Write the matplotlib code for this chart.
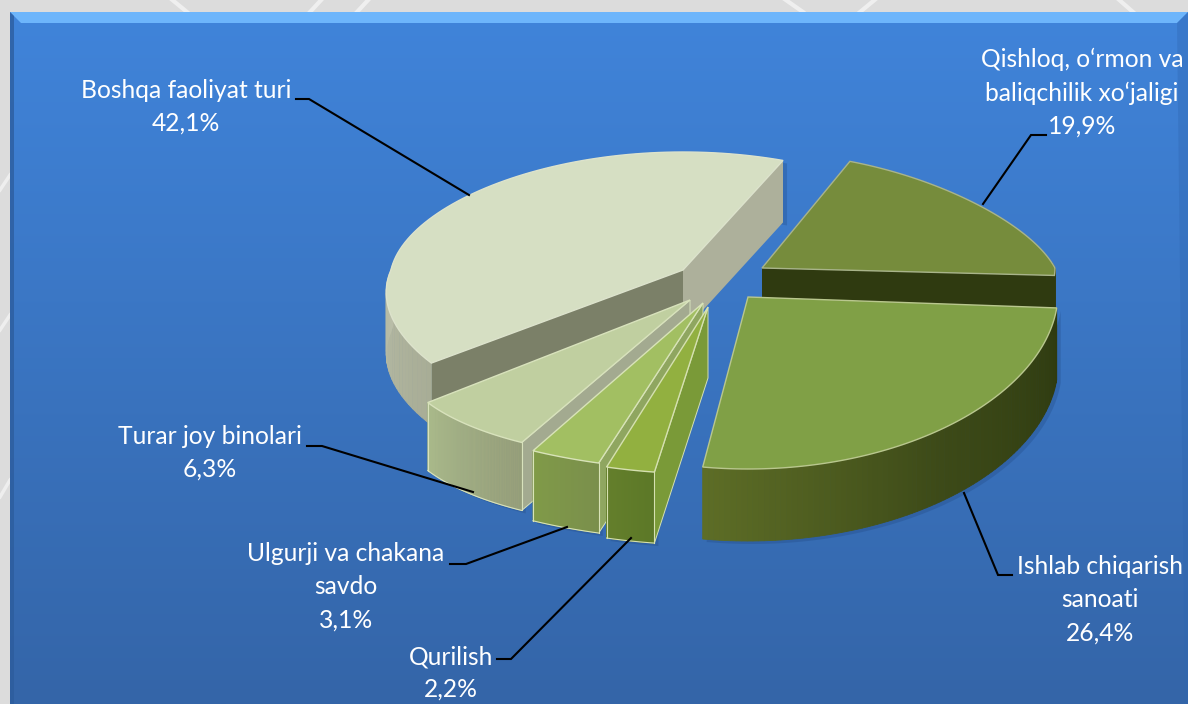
"""Exploded 3D pie of activity shares, on a blue bevelled panel."""
import numpy as np
import matplotlib
matplotlib.use("Agg")
import matplotlib.pyplot as plt
from matplotlib.colors import to_rgb
from matplotlib.patches import Polygon

W, H = 1188, 704

# data, clockwise from the back of the pie
categories = ["Qishloq, o\u2018rmon va\nbaliqchilik xo\u2018jaligi", "Ishlab chiqarish\nsanoati",
              "Qurilish", "Ulgurji va chakana\nsavdo", "Turar joy binolari", "Boshqa faoliyat turi"]
shares = [19.9, 26.4, 2.2, 3.1, 6.3, 42.1]
start_deg = -68.0

# per slice look: apex, half-axes (side, front, back), height, colours
apex = [(762, 268), (748, 297), (708, 307), (703, 303), (690, 300), (683, 270)]
rx = [(293, 293, 230), (310, 300, 310), (355, 355, 355), (365, 365, 365), (286, 371, 286), (292, 346, 265)]
ry = [(115, 150, 115), (172, 172, 172), (167, 167, 167), (167, 167, 167), (161, 161, 161), (120, 161, 118)]
depth = [60, 72, 71, 70, 68, 62]
top_col = ["#768c3c", "#80a046", "#92b040", "#a2bf62", "#c0cfa0", "#d6dfc3"]
wall_cols = [("#2f3a10", "#2f3a10"), ("#2f3b10", "#3d4a18", "#5d6d26"), ("#5c7827", "#647f2c"),
             ("#7a8f4c", "#809a48"), ("#979f7a", "#a9b98a"), ("#a8ad96", "#c9cdb8", "#c5c9b4")]
# visible cut faces per slice: (0 = start of slice, -1 = end of slice, colour)
cut_faces = [[(-1, "#2f3a10")], [], [(0, "#7a9a38")], [(0, "#8fa660")], [(0, "#a3aa90")],
             [(0, "#7b8068"), (-1, "#adb09b")]]
edge_col = ["#a9b48a", "#b9c78e", "#d5e0b0", "#d8e3b8", "#d8e2bc", "#dde3cc"]
has_shadow = [False, True, True, True, True, True]

label_xy = [(1082, 61), (1100, 568), (451, 658), (346, 555), (210, 438), (186, 92)]
leaders = [[(1046, 135), (1031, 135), (983, 204)], [(1012, 575), (998, 575), (964, 493)],
           [(497, 659), (511, 659), (631, 538)], [(450, 564), (466, 564), (567, 527)],
           [(307, 446), (322, 446), (473, 492)], [(296, 99), (309, 99), (469, 195)]]


def rim(i, t):
    """Rim points of slice i at angles t (radians), in picture pixels."""
    s = np.sin(t)
    ax_, ay_ = apex[i]
    a0, af, ab = rx[i]
    b0, bf, bb = ry[i]
    a = np.where(s > 0, a0 + (af - a0) * s, a0 + (ab - a0) * -s)
    b = np.where(s > 0, b0 + (bf - b0) * s, b0 + (bb - b0) * -s)
    return ax_ + a * np.cos(t), ay_ + b * s


def mix(stops, n):
    rgb = np.array([to_rgb(c) for c in stops])
    pos = np.linspace(0, 1, len(stops))
    return [tuple(np.interp(u, pos, rgb[:, k]) for k in range(3)) for u in np.linspace(0, 1, n)]


fig = plt.figure(figsize=(W / 100, H / 100), dpi=100, facecolor="#dcdcdc")
ax = fig.add_axes([0, 0, 1, 1])
ax.axis("off")

# pale streaks in the grey frame
for xa, xb in [(170, 187), (323, 310), (370, 357), (783, 803), (877, 860), (1117, 1133)]:
    ax.plot([xa, xb], [-2, 12], color="#efefef", lw=3, zorder=0)
for ya, yb in [(497, 480), (330, 315), (190, 175)]:
    ax.plot([0, 10], [ya, yb], color="#eeeeee", lw=2.5, zorder=0)

# panel with bevel
x0, y0 = 10, 12
grad = np.linspace(0, 1, 256)[:, None, None]
top, bot = np.array(to_rgb("#4084da")), np.array(to_rgb("#3465a8"))
ax.imshow(top + (bot - top) * grad, extent=[x0, W, H, y0], aspect="auto", zorder=1)
ax.add_patch(Polygon([(x0, y0), (W, y0), (W - 11, y0 + 11), (x0 + 11, y0 + 11)], fc="#6db5fb", ec="none", zorder=2))
ax.add_patch(Polygon([(x0, y0), (x0 + 4, y0 + 4), (x0 + 4, H), (x0, H)], fc="#2c5c9c", ec="none", alpha=0.75, zorder=2))
ax.add_patch(Polygon([(W, y0), (W - 11, y0 + 11), (W - 3, H), (W, H)], fc="#2f66b0", ec="none", alpha=0.35, zorder=2))
ax.set_xlim(0, W)
ax.set_ylim(H, 0)

# slices, back to front
bounds = start_deg + 3.6 * np.cumsum([0] + shares)
order = [0, 5, 4, 3, 2, 1]
z = 10
for i in order:
    t = np.radians(np.linspace(bounds[i], bounds[i + 1], 90))
    x, y = rim(i, t)
    h = depth[i]
    px, py = apex[i]

    if has_shadow[i]:
        ax.fill(np.r_[x, x[::-1]] + 4, np.r_[y, y[::-1] + h] + 3, color="#1c3f75", alpha=0.25, lw=0, zorder=z)
        z += 1

    for end, col in cut_faces[i]:
        ax.add_patch(Polygon([(px, py), (x[end], y[end]), (x[end], y[end] + h), (px, py + h)],
                             fc=col, ec=edge_col[i] if i in (2, 3, 4) else "none", lw=0.7, zorder=z))
        z += 1

    # outer wall in thin strips so the shading runs along it
    cols = mix(wall_cols[i], len(t) - 1)
    for k in range(len(t) - 1):
        if np.sin(t[k]) > -0.05:
            ax.fill([x[k], x[k + 1], x[k + 1], x[k]], [y[k], y[k + 1], y[k + 1] + h, y[k] + h],
                    fc=cols[k], ec=cols[k], lw=0.6, zorder=z)
    z += 1
    vis = np.sin(t) > -0.05
    if vis.any() and i in (2, 3, 4):
        ax.plot(x[vis], y[vis] + h, color=edge_col[i], lw=0.8, zorder=z)
        ax.plot([x[vis][0]] * 2, [y[vis][0], y[vis][0] + h], color=edge_col[i], lw=0.8, zorder=z)
        ax.plot([x[vis][-1]] * 2, [y[vis][-1], y[vis][-1] + h], color=edge_col[i], lw=0.8, zorder=z)

    # top surface
    ax.add_patch(Polygon(np.c_[np.r_[px, x], np.r_[py, y]], fc=top_col[i], ec=edge_col[i], lw=1.0, zorder=z + 1))
    z += 2

# leaders and labels
for pts in leaders:
    lx, ly = zip(*pts)
    ax.plot(lx, ly, color="black", lw=1.5, solid_joinstyle="miter", zorder=z)
for name, val, (lx, ly) in zip(categories, shares, label_xy):
    txt = name + "\n" + f"{val:.1f}%".replace(".", ",")
    ax.text(lx, ly - 13, txt, color="white", family="Lato", fontsize=17.7, ha="center", va="top",
            linespacing=1.53, zorder=z + 1)

fig.savefig("out.png", dpi=100)
